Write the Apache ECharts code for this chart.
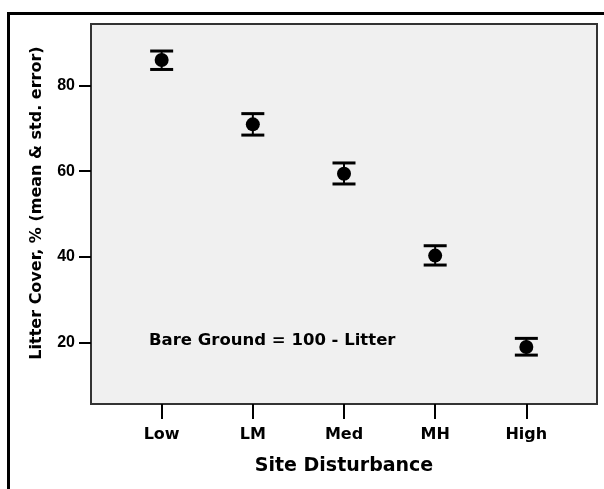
<!DOCTYPE html>
<html>
<head>
<meta charset="utf-8">
<script src="https://cdn.jsdelivr.net/npm/echarts@6/dist/echarts.min.js"></script>
<style>html,body{margin:0;padding:0;background:#fff}#c{width:604px;height:489px}</style>
</head>
<body>
<div id="c"></div>
<script>
const categories = ['Low', 'LM', 'Med', 'MH', 'High'];
const means = [85.9, 70.9, 59.4, 40.3, 19.0];
const upper = [88.0, 73.4, 61.9, 42.6, 21.0];
const lower = [83.7, 68.4, 57.0, 38.1, 17.1];
const yTicks = [20, 40, 60, 80];
const annotation = 'Bare Ground = 100 - Litter';
const xTitle = 'Site Disturbance';
const yTitle = 'Litter Cover, % (mean & std. error)';

const pos = categories.map((c, i) => i + 1);
const font = '"DejaVu Sans", Arial, sans-serif';
const font2 = '"Liberation Sans", Arial, sans-serif';
const chart = echarts.init(document.getElementById('c'), null, {renderer: 'canvas'});
chart.setOption({
  animation: false,
  backgroundColor: '#fff',
  grid: {left: 91, top: 24, right: 7, bottom: 85, show: true, backgroundColor: '#f0f0f0', borderColor: '#333', borderWidth: 2},
  graphic: [
    {type: 'rect', shape: {x: 8.5, y: 13.5, width: 700, height: 600}, style: {fill: null, stroke: '#000', lineWidth: 3}, z: 100},
    {type: 'text', left: 149, top: 332, style: {text: annotation, font: 'bold 16.5px ' + font, fill: '#000'}, z: 100}
  ],
  xAxis: {
    type: 'value', min: 0.225, max: 5.775,
    axisLine: {show: false},
    splitLine: {show: false},
    axisTick: {show: true, customValues: pos, length: 15, lineStyle: {color: '#000', width: 2}},
    axisLabel: {customValues: pos, formatter: v => categories[Math.round(v) - 1], margin: 23, color: '#000', fontFamily: font, fontWeight: 'bold', fontSize: 16},
    name: xTitle, nameLocation: 'middle', nameGap: 53,
    nameTextStyle: {color: '#000', fontFamily: font, fontWeight: 'bold', fontSize: 19}
  },
  yAxis: {
    type: 'value', min: 5.7, max: 94.3,
    axisLine: {show: false},
    splitLine: {show: false},
    axisTick: {show: true, customValues: yTicks, length: 12, lineStyle: {color: '#000', width: 2}},
    axisLabel: {customValues: yTicks, margin: 16, color: '#000', fontFamily: font2, fontWeight: 'bold', fontSize: 16},
    name: yTitle, nameLocation: 'middle', nameGap: 46, nameRotate: 90,
    nameTextStyle: {color: '#000', fontFamily: font, fontWeight: 'bold', fontSize: 16, padding: [0, 0, 0, 22]}
  },
  series: [
    {
      type: 'custom',
      data: pos.map((p, i) => [p, lower[i], upper[i]]),
      renderItem: function (params, api) {
        const lo = api.coord([api.value(0), api.value(1)]);
        const hi = api.coord([api.value(0), api.value(2)]);
        const hw = 11.5;
        const st = {stroke: '#000', lineWidth: 3};
        return {type: 'group', children: [
          {type: 'line', shape: {x1: lo[0], y1: lo[1], x2: hi[0], y2: hi[1]}, style: {stroke: '#000', lineWidth: 2}},
          {type: 'line', shape: {x1: lo[0] - hw, y1: lo[1], x2: lo[0] + hw, y2: lo[1]}, style: st},
          {type: 'line', shape: {x1: hi[0] - hw, y1: hi[1], x2: hi[0] + hw, y2: hi[1]}, style: st}
        ]};
      },
      z: 2
    },
    {
      type: 'scatter',
      data: pos.map((p, i) => [p, means[i]]),
      symbol: 'circle', symbolSize: 14,
      itemStyle: {color: '#000', opacity: 1},
      z: 3
    }
  ]
});
</script>
</body>
</html>
